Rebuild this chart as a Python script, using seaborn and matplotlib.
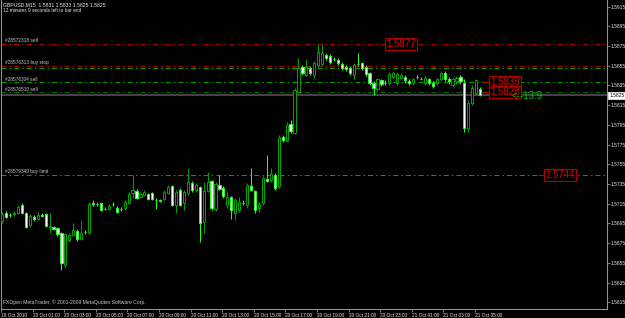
import matplotlib
matplotlib.use("Agg")
import matplotlib.pyplot as plt
import matplotlib.transforms as mtransforms
from matplotlib.patches import Rectangle
import seaborn as sns

# ---------------- data (GBPUSD, M15) ----------------
opens = [1.5698, 1.5706, 1.5704, 1.5705, 1.5706, 1.5714, 1.5706, 1.5693, 1.5702, 1.5700,
         1.5704, 1.5705, 1.5691, 1.5691, 1.5690, 1.5685, 1.5653, 1.5678, 1.5683, 1.5687,
         1.5679, 1.5686, 1.5685, 1.5716, 1.5715, 1.5716, 1.5710, 1.5710, 1.5715, 1.5711,
         1.5710, 1.5711, 1.5716, 1.5726, 1.5728, 1.5722, 1.5724, 1.5725, 1.5726, 1.5719,
         1.5719, 1.5720, 1.5726, 1.5733, 1.5714, 1.5729, 1.5716, 1.5726, 1.5736, 1.5729,
         1.5732, 1.5697, 1.5728, 1.5738, 1.5710, 1.5734, 1.5731, 1.5714, 1.5722, 1.5706,
         1.5709, 1.5716, 1.5714, 1.5733, 1.5728, 1.5711, 1.5716, 1.5740, 1.5739, 1.5744,
         1.5733, 1.5783, 1.5779, 1.5796, 1.5787, 1.5828, 1.5854, 1.5846, 1.5853, 1.5846,
         1.5856, 1.5857, 1.5866, 1.5865, 1.5862, 1.5861, 1.5857, 1.5854, 1.5853, 1.5846,
         1.5857, 1.5858, 1.5854, 1.5848, 1.5837, 1.5831, 1.5840, 1.5837, 1.5837, 1.5844,
         1.5837, 1.5843, 1.5844, 1.5839, 1.5837, 1.5844, 1.5842, 1.5837, 1.5841, 1.5837,
         1.5837, 1.5841, 1.5848, 1.5842, 1.5835, 1.5839, 1.5844, 1.5837, 1.5792, 1.5817,
         1.5827, 1.5831]
highs = [1.5707, 1.5708, 1.5706, 1.5708, 1.5714, 1.5716, 1.5707, 1.5705, 1.5704, 1.5707,
         1.5706, 1.5706, 1.5706, 1.5692, 1.5691, 1.5686, 1.5685, 1.5685, 1.5696, 1.5689,
         1.5699, 1.5688, 1.5717, 1.5719, 1.5717, 1.5717, 1.5712, 1.5715, 1.5717, 1.5713,
         1.5712, 1.5719, 1.5727, 1.5744, 1.5730, 1.5727, 1.5729, 1.5726, 1.5727, 1.5721,
         1.5720, 1.5729, 1.5734, 1.5734, 1.5729, 1.5731, 1.5729, 1.5751, 1.5738, 1.5736,
         1.5733, 1.5737, 1.5747, 1.5739, 1.5737, 1.5744, 1.5733, 1.5727, 1.5723, 1.5721,
         1.5722, 1.5719, 1.5736, 1.5751, 1.5729, 1.5717, 1.5743, 1.5764, 1.5751, 1.5746,
         1.5785, 1.5785, 1.5798, 1.5800, 1.5832, 1.5863, 1.5856, 1.5862, 1.5855, 1.5860,
         1.5877, 1.5877, 1.5868, 1.5867, 1.5864, 1.5863, 1.5859, 1.5856, 1.5855, 1.5858,
         1.5868, 1.5859, 1.5856, 1.5849, 1.5839, 1.5843, 1.5842, 1.5840, 1.5849, 1.5850,
         1.5849, 1.5848, 1.5846, 1.5841, 1.5843, 1.5846, 1.5844, 1.5845, 1.5843, 1.5839,
         1.5843, 1.5850, 1.5850, 1.5844, 1.5843, 1.5845, 1.5846, 1.5841, 1.5820, 1.5835,
         1.5841, 1.5833]
lows = [1.5695, 1.5701, 1.5702, 1.5703, 1.5705, 1.5705, 1.5690, 1.5691, 1.5698, 1.5699,
        1.5702, 1.5691, 1.5685, 1.5688, 1.5682, 1.5648, 1.5651, 1.5676, 1.5682, 1.5677,
        1.5678, 1.5684, 1.5684, 1.5713, 1.5713, 1.5708, 1.5709, 1.5709, 1.5713, 1.5706,
        1.5708, 1.5709, 1.5715, 1.5721, 1.5720, 1.5721, 1.5723, 1.5719, 1.5719, 1.5710,
        1.5717, 1.5719, 1.5725, 1.5713, 1.5706, 1.5713, 1.5709, 1.5724, 1.5727, 1.5727,
        1.5676, 1.5685, 1.5727, 1.5709, 1.5708, 1.5729, 1.5721, 1.5711, 1.5700, 1.5699,
        1.5707, 1.5714, 1.5711, 1.5728, 1.5706, 1.5707, 1.5714, 1.5737, 1.5737, 1.5729,
        1.5731, 1.5778, 1.5778, 1.5787, 1.5786, 1.5827, 1.5846, 1.5845, 1.5846, 1.5843,
        1.5854, 1.5855, 1.5861, 1.5857, 1.5860, 1.5856, 1.5851, 1.5850, 1.5846, 1.5841,
        1.5855, 1.5851, 1.5845, 1.5835, 1.5825, 1.5829, 1.5834, 1.5835, 1.5835, 1.5843,
        1.5835, 1.5841, 1.5837, 1.5835, 1.5835, 1.5842, 1.5840, 1.5835, 1.5835, 1.5832,
        1.5835, 1.5839, 1.5839, 1.5836, 1.5833, 1.5836, 1.5836, 1.5788, 1.5788, 1.5815,
        1.5825, 1.5824]
closes = [1.5705, 1.5702, 1.5704, 1.5706, 1.5712, 1.5706, 1.5691, 1.5703, 1.5700, 1.5704,
          1.5703, 1.5692, 1.5692, 1.5689, 1.5684, 1.5655, 1.5684, 1.5683, 1.5688, 1.5679,
          1.5685, 1.5686, 1.5715, 1.5715, 1.5715, 1.5709, 1.5710, 1.5713, 1.5715, 1.5707,
          1.5710, 1.5717, 1.5725, 1.5729, 1.5721, 1.5725, 1.5727, 1.5720, 1.5720, 1.5719,
          1.5718, 1.5727, 1.5732, 1.5714, 1.5727, 1.5714, 1.5727, 1.5737, 1.5729, 1.5734,
          1.5696, 1.5728, 1.5737, 1.5711, 1.5735, 1.5730, 1.5723, 1.5722, 1.5709, 1.5719,
          1.5717, 1.5716, 1.5734, 1.5729, 1.5709, 1.5715, 1.5741, 1.5738, 1.5745, 1.5731,
          1.5783, 1.5780, 1.5795, 1.5789, 1.5830, 1.5853, 1.5848, 1.5854, 1.5848, 1.5858,
          1.5869, 1.5868, 1.5863, 1.5859, 1.5862, 1.5858, 1.5853, 1.5852, 1.5848, 1.5856,
          1.5857, 1.5853, 1.5847, 1.5837, 1.5832, 1.5841, 1.5836, 1.5837, 1.5847, 1.5848,
          1.5847, 1.5846, 1.5840, 1.5837, 1.5841, 1.5844, 1.5841, 1.5843, 1.5837, 1.5834,
          1.5841, 1.5848, 1.5841, 1.5839, 1.5841, 1.5843, 1.5839, 1.5792, 1.5817, 1.5832,
          1.5840, 1.5825]

time_labels = ["19 Oct 2010", "20 Oct 01:00", "20 Oct 03:00", "20 Oct 05:00",
               "20 Oct 07:00", "20 Oct 09:00", "20 Oct 11:00", "20 Oct 13:00",
               "20 Oct 15:00", "20 Oct 17:00", "20 Oct 19:00", "20 Oct 21:00",
               "20 Oct 23:00", "21 Oct 01:00", "21 Oct 03:00", "21 Oct 05:00"]
bars_per_label = 8

price_ticks = [1.5915, 1.5895, 1.5875, 1.5855, 1.5835, 1.5815, 1.5795, 1.5775,
               1.5755, 1.5735, 1.5715, 1.5695, 1.5675, 1.5655, 1.5635, 1.5615]

order_levels = [1.5877, 1.5855, 1.5853, 1.5838, 1.5828, 1.5744]
order_names = ["#28572318 sell", "#28576313 buy stop", "", "#28576304 sell",
               "#28576510 sell", "#28579349 buy limit"]
order_colors = ["#B00000", "#B00000", "#00A000", "#00A000", "#006A00", "#00A000"]

label_prices = [1.5877, 1.5838, 1.5828, 1.5744]
bid_price = 1.5825
timer_text = "<--13:9"
title_line1 = "GBPUSD,M15  1.5831 1.5833 1.5825 1.5825"
title_line2 = "12 minutes 9 seconds left to bar end"
footer = "FXOpen MetaTrader, \u00a9 2001-2009 MetaQuotes Software Corp."

# ---------------- style ----------------
sns.set_theme(style="dark", rc={"axes.facecolor": "black", "figure.facecolor": "black",
                                "axes.grid": False, "lines.scale_dashes": False})
plt.rcParams["font.family"] = ["Liberation Sans", "DejaVu Sans"]

W, H = 625, 318
fig = plt.figure(figsize=(W / 100, H / 100), dpi=100)
ax = fig.add_axes([1 / W, 9 / H, 606 / W, 309 / H])
ax.set_facecolor("black")

ax.set_xlim(-0.18, 153.1)
ax.set_ylim(1.56083, 1.59216)

# level lines
dash = (0, (3.6, 2.2, 1.1, 2.2))
for lvl, name, col in zip(order_levels, order_names, order_colors):
    ax.axhline(lvl, color=col, lw=0.75, ls=dash, zorder=1)
    if name:
        ax.text(0.6, lvl + 0.00008, name, fontsize=3.4, color="#C8C8C8",
                ha="left", va="bottom", zorder=5)

# bid line
ax.axhline(bid_price, color="#505050", lw=1.2, zorder=1)

# candles
bw = 0.55
for i, (o, h, l, c) in enumerate(zip(opens, highs, lows, closes)):
    bull = c > o
    edge = "#00A000" if bull else "#22FF22"
    face = "black" if bull else "white"
    ax.vlines(i, l, h, color=edge, lw=0.75, zorder=2)
    ax.add_patch(Rectangle((i - bw / 2, min(o, c)), bw, abs(c - o),
                           facecolor=face, edgecolor=edge, lw=0.72, zorder=3))

# price label boxes (red)
box_pos = [97.3, 123.5, 123.5, 137.4]
for p, xb in zip(label_prices, box_pos):
    ax.text(xb, p, f"{p:.4f}", fontsize=7, color="#E00000", ha="left", va="center",
            zorder=6,
            bbox=dict(boxstyle="square,pad=0.12", facecolor="black",
                      edgecolor="#B00000", lw=0.8))
ax.hlines([1.5838, 1.5828], 121.6, 123.3, color="#C00000", lw=0.75, zorder=4)
ax.hlines([1.5744], 135.6, 137.2, color="#C00000", lw=0.75, zorder=4)

ax.text(129.0, 1.58245, timer_text, fontsize=7, color="#00C800", ha="left", va="center",
        zorder=7)

# header and footer texts
ax.text(0.004, 0.993, title_line1, transform=ax.transAxes, fontsize=3.7,
        color="#E8E8E8", ha="left", va="top")
ax.text(0.004, 0.975, title_line2, transform=ax.transAxes, fontsize=3.4,
        color="#E8E8E8", ha="left", va="top")
ax.text(0.003, 0.012, footer, transform=ax.transAxes, fontsize=3.6,
        color="#C8C8C8", ha="left", va="bottom")

# axes
ax.spines["top"].set_visible(False)
for s in ["left", "right", "bottom"]:
    ax.spines[s].set_color("#909090")
    ax.spines[s].set_linewidth(0.8)

tick_pos = [k * bars_per_label - 0.3 for k in range(len(time_labels))]
ax.set_xticks(tick_pos)
ax.set_xticklabels(time_labels, ha="left", fontsize=3.45, color="#E8E8E8")
ax.tick_params(axis="x", direction="out", length=2.5, width=0.6, color="#909090",
               pad=0.3, bottom=True)

ax.yaxis.tick_right()
ax.set_yticks(price_ticks)
ax.set_yticklabels([f"{p:.4f}" for p in price_ticks], fontsize=3.5, color="#E8E8E8")
ax.tick_params(axis="y", direction="out", length=2.0, width=0.6, color="#909090",
               pad=0.5, right=True, left=False)

trans = mtransforms.blended_transform_factory(ax.transAxes, ax.transData)
ax.text(1.0035, bid_price, f"{bid_price:.4f}", transform=trans, fontsize=3.5,
        color="black", ha="left", va="center", clip_on=False, zorder=8,
        bbox=dict(boxstyle="square,pad=0.15", facecolor="white", edgecolor="white", lw=0.5))

fig.savefig("out.png", dpi=100, facecolor="black")
